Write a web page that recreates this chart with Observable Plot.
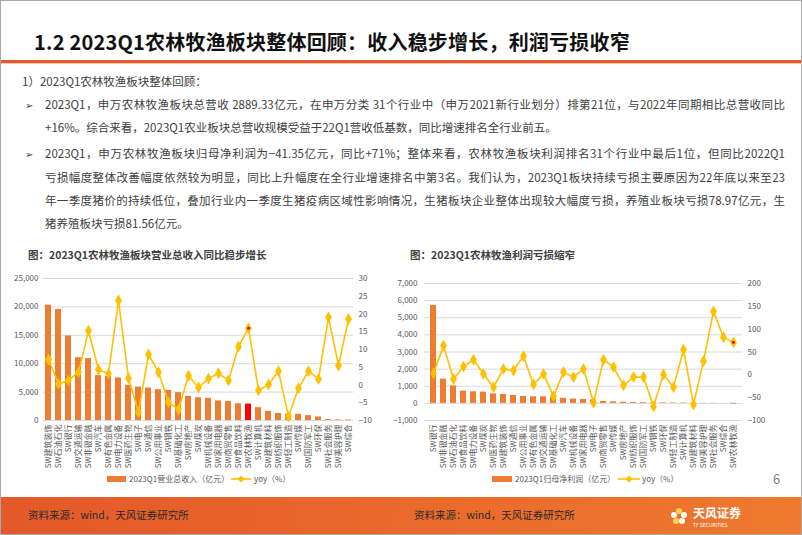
<!DOCTYPE html>
<html><head><meta charset="utf-8">
<script src="https://cdn.jsdelivr.net/npm/d3@7"></script>
<script src="https://cdn.jsdelivr.net/npm/@observablehq/plot@0.6"></script>
<style>
html,body{margin:0;padding:0;}
body{width:802px;height:535px;overflow:hidden;background:#fff;font-family:"Noto Sans CJK SC","Noto Sans",sans-serif;position:relative;color:#404040;}
.abs{position:absolute;white-space:nowrap;}
.frame{position:absolute;left:0;top:0;width:800px;height:533px;border:1px solid #a8a8a8;box-sizing:content-box;}
.title{left:34px;top:27px;font-size:20px;font-weight:bold;color:#111;letter-spacing:0.2px;}
.rule{position:absolute;left:1px;top:60px;width:800px;height:3px;background:#E2572B;}
.rule2{position:absolute;left:1px;top:63px;width:800px;height:1px;background:#f3c9b6;}
.p{font-size:11.5px;color:#404040;line-height:16px;}
.full{width:740px;text-align:justify;text-align-last:justify;}
.bul{font-size:10px;color:#404040;}
.ctitle{font-size:10.5px;font-weight:bold;color:#404040;}
.leg{font-size:8px;color:#595959;}
.footer{position:absolute;left:1px;top:497px;width:800px;height:37px;background:linear-gradient(90deg,#E4592A 0%,#EA6A2C 55%,#EE7A2F 100%);}
.src{font-size:10.5px;color:#2b2b2b;}
.chart{position:absolute;}
</style></head><body>
<div class="frame"></div>
<div class="abs title">1.2 2023Q1农林牧渔板块整体回顾：收入稳步增长，利润亏损收窄</div>
<div class="rule"></div><div class="rule2"></div>

<div class="abs p" style="left:22px;top:73px;">1）2023Q1农林牧渔板块整体回顾：</div>
<div class="abs bul" style="left:25px;top:97px;">➢</div>
<div class="abs p full" style="left:45px;top:96px;">2023Q1，申万农林牧渔板块总营收 2889.33亿元，在申万分类 31个行业中（申万2021新行业划分）排第21位，与2022年同期相比总营收同比</div>
<div class="abs p" style="left:45px;top:119px;">+16%。综合来看，2023Q1农业板块总营收规模受益于22Q1营收低基数，同比增速排名全行业前五。</div>
<div class="abs bul" style="left:25px;top:146px;">➢</div>
<div class="abs p full" style="left:45px;top:145px;">2023Q1，申万农林牧渔板块归母净利润为−41.35亿元，同比+71%；整体来看，农林牧渔板块利润排名31个行业中最后1位，但同比2022Q1</div>
<div class="abs p full" style="left:45px;top:169px;">亏损幅度整体改善幅度依然较为明显，同比上升幅度在全行业增速排名中第3名。我们认为，2023Q1板块持续亏损主要原因为22年底以来至23</div>
<div class="abs p full" style="left:45px;top:192px;">年一季度猪价的持续低位，叠加行业内一季度生猪疫病区域性影响情况，生猪板块企业整体出现较大幅度亏损，养殖业板块亏损78.97亿元，生</div>
<div class="abs p" style="left:45px;top:215px;">猪养殖板块亏损81.56亿元。</div>

<div class="abs ctitle" style="left:28px;top:247px;">图：2023Q1农林牧渔板块营业总收入同比稳步增长</div>
<div class="abs ctitle" style="left:410px;top:247px;">图：2023Q1农林牧渔利润亏损缩窄</div>

<div id="c1a" class="chart" style="left:0px;top:265px;"></div>
<div id="c1b" class="chart" style="left:0px;top:265px;"></div>
<div id="c2a" class="chart" style="left:385px;top:265px;"></div>
<div id="c2b" class="chart" style="left:385px;top:265px;"></div>

<!-- legends -->
<div class="abs" style="left:107px;top:476px;width:19px;height:6px;background:#ED7D31;"></div>
<div class="abs leg" style="left:129px;top:473px;">2023Q1营业总收入（亿元）</div>
<svg class="abs" style="left:230px;top:473px;" width="22" height="12"><line x1="1" y1="6" x2="21" y2="6" stroke="#FFC000" stroke-width="1.6"/><path d="M11,2.5L14.5,6L11,9.5L7.5,6Z" fill="#FFC000"/></svg>
<div class="abs leg" style="left:254px;top:473px;">yoy（%）</div>

<div class="abs" style="left:492px;top:476px;width:20px;height:6px;background:#ED7D31;"></div>
<div class="abs leg" style="left:515px;top:473px;">2023Q1归母净利润（亿元）</div>
<svg class="abs" style="left:617px;top:473px;" width="24" height="12"><line x1="1" y1="6" x2="23" y2="6" stroke="#FFC000" stroke-width="1.6"/><path d="M12,2.5L15.5,6L12,9.5L8.5,6Z" fill="#FFC000"/></svg>
<div class="abs leg" style="left:642px;top:473px;">yoy（%）</div>

<div class="abs" style="left:773px;top:469px;font-size:13px;color:#7f7f7f;">6</div>

<div class="footer"></div>
<div class="abs src" style="left:28px;top:507px;">资料来源：wind，天风证券研究所</div>
<div class="abs src" style="left:414px;top:507px;">资料来源：wind，天风证券研究所</div>
<svg class="abs" style="left:668px;top:502px;" width="80" height="28">
  <circle cx="11" cy="9" r="3" fill="#FFD54A"/><circle cx="6" cy="13" r="3" fill="#fff"/><circle cx="16" cy="13" r="3" fill="#fff"/>
  <circle cx="8" cy="19" r="3" fill="#FFD54A"/><circle cx="14" cy="19" r="3" fill="#fff"/>
  <text x="25" y="16" font-size="12" font-weight="bold" fill="#fff" font-family="Noto Sans CJK SC">天风证券</text>
  <text x="25" y="25" font-size="5" fill="#fff" font-family="Noto Sans CJK SC">TF SECURITIES</text>
</svg>

<script>
// ---------- Chart 1: revenue ----------
const revCats = ["SW建筑装饰","SW石油石化","SW银行","SW交通运输","SW非银金融","SW汽车","SW有色金属","SW电力设备","SW医药生物","SW电子","SW通信","SW公用事业","SW钢铁","SW基础化工","SW房地产","SW煤炭","SW机械设备","SW家用电器","SW商贸零售","SW食品饮料","SW农林牧渔","SW计算机","SW建筑材料","SW纺织服饰","SW轻工制造","SW传媒","SW国防军工","SW环保","SW社会服务","SW美容护理","SW综合"];
const revValues = [20300,19550,14880,11050,10900,7900,7780,7500,6200,5880,5720,5420,5300,4900,4250,4000,3900,3450,3350,2950,2889.33,2250,1600,1230,1100,1090,860,620,170,110,90];
const revYoy = [7.2,0.3,1.3,3.6,15.3,4.3,3.2,23.8,1.9,-7.7,8.6,3.6,-4.8,-6.9,2.6,-0.7,1.8,3.3,1.3,10.8,16,-1.5,0.1,3.9,-8.9,-0.9,3.9,1.7,19.1,5.5,18.6];
const revTicks = [0,5000,10000,15000,20000,25000];
const revYoyTicks = [-10,-5,0,5,10,15,20,25,30];

// ---------- Chart 2: net profit ----------
const profCats = ["SW银行","SW非银金融","SW石油石化","SW食品饮料","SW电力设备","SW煤炭","SW医药生物","SW建筑装饰","SW通信","SW公用事业","SW有色金属","SW交通运输","SW基础化工","SW汽车","SW机械设备","SW家用电器","SW电子","SW商贸零售","SW传媒","SW房地产","SW纺织服饰","SW国防军工","SW钢铁","SW环保","SW轻工制造","SW计算机","SW建筑材料","SW美容护理","SW社会服务","SW综合","SW农林牧渔"];
const profValues = [5715,1413,1023,715,674,657,558,523,465,407,384,384,380,300,250,230,200,110,90,70,55,45,35,30,25,20,15,10,8,3,-41.35];
const profYoy = [3,64,-9,18,33,2,-27,13,9.5,41,-21,2,-47,6,-5,13,-61,33,17,-23,-5,-5,-69,1,-27,55,-65,30,139,82,71];
const profTicks = [-1000,0,1000,2000,3000,4000,5000,6000,7000];
const profYoyTicks = [-100,-50,0,50,100,150,200];

const highlight = "SW农林牧渔";
const FONT = '"Noto Sans CJK SC","Noto Sans",sans-serif';

function dual(o){
  const data = o.cats.map((c,i)=>({c, v:o.bars[i], r:o.yoy[i]}));
  const common = {width:o.width, height:o.height, marginLeft:o.mL, marginRight:o.mR, marginTop:o.mT, marginBottom:o.mB,
    style:{background:"transparent", fontFamily:FONT, fontSize:"8px", color:"#595959", overflow:"visible"}};
  const base = Plot.plot({
    ...common,
    x:{domain:o.cats, paddingInner:0.4, paddingOuter:0.2, label:null, axis:null},
    y:{domain:o.yDom, label:null},
    color:{type:"identity"},
    marks:[
      Plot.gridY({ticks:o.yTicks, stroke:"#d9d9d9", strokeOpacity:1}),
      Plot.axisY({ticks:o.yTicks, tickSize:0, tickPadding:o.padL, tickFormat:d3.format(","), label:null}),
      Plot.text(o.cats, {x:d=>d, frameAnchor:"bottom", rotate:-90, textAnchor:"end", lineAnchor:"middle", dy:4, fontSize:8, fill:"#595959"}),
      Plot.barY(data, {x:"c", y:"v", fill:d => (o.hlBar && d.c===highlight) ? "#FF0000" : "#ED7D31"})
    ]
  });
  const over = Plot.plot({
    ...common,
    x:{type:"point", domain:o.cats, padding:0.5, axis:null},
    y:{domain:o.y2Dom, label:null},
    marks:[
      Plot.axisY({anchor:"right", ticks:o.y2Ticks, tickSize:0, tickPadding:o.padR, label:null}),
      Plot.lineY(data, {x:"c", y:"r", stroke:"#FFC000", strokeWidth:1.6}),
      Plot.dot(data, {x:"c", y:"r", symbol:"diamond", fill:"#FFC000", r:3.6}),
      Plot.dot(data.filter(d=>d.c===highlight), {x:"c", y:"r", fill:"#C00000", r:1.4})
    ]
  });
  document.getElementById(o.idA).appendChild(base);
  document.getElementById(o.idB).appendChild(over);
}

dual({idA:"c1a", idB:"c1b", cats:revCats, bars:revValues, yoy:revYoy, hlBar:true,
  width:385, height:210, mL:43, mR:32, mT:13, mB:55, padL:5, padR:5,
  yDom:[0,25000], yTicks:revTicks, y2Dom:[-10,30], y2Ticks:revYoyTicks});

dual({idA:"c2a", idB:"c2b", cats:profCats, bars:profValues, yoy:profYoy, hlBar:false,
  width:417, height:210, mL:39, mR:60, mT:18, mB:55, padL:7, padR:5,
  yDom:[-1000,7000], yTicks:profTicks, y2Dom:[-100,200], y2Ticks:profYoyTicks});
</script>
</body></html>
